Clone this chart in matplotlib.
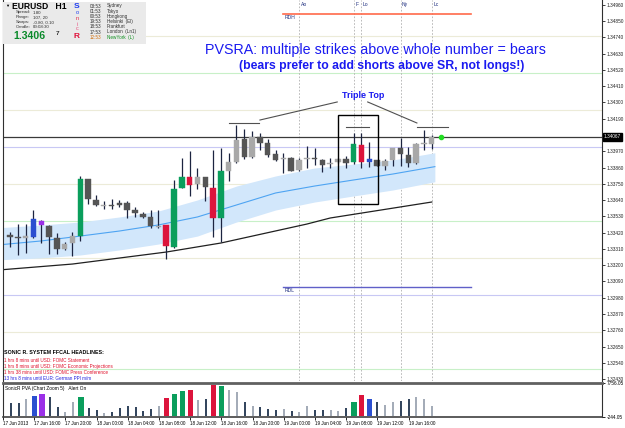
import numpy as np
import matplotlib
matplotlib.use("Agg")
import matplotlib.pyplot as plt
from matplotlib.patches import Rectangle

W, H = 625, 428
plt.rcParams['font.family'] = ['Liberation Sans', 'DejaVu Sans']

# ---- data -------------------------------------------------------------
# H1 bars, bar 0 = 17 Jun 2013 12:00, candles drawn from bar 1
opens = [1.33403, 1.33389, 1.33382, 1.33389, 1.33497, 1.33464, 1.33382, 1.33308, 1.33348, 1.33396,
         1.33782, 1.33640, 1.33599, 1.33606, 1.33606, 1.33620, 1.33572, 1.33545, 1.33525, 1.33460,
         1.33471, 1.33321, 1.33721, 1.33796, 1.33748, 1.33796, 1.33721, 1.33518, 1.33836, 1.33897,
         1.34053, 1.33931, 1.34066, 1.34026, 1.33951, 1.33915, 1.33924, 1.33843, 1.33915, 1.33918,
         1.33911, 1.33884, 1.33897, 1.33918, 1.33897, 1.34012, 1.33897, 1.33911, 1.33870, 1.33911,
         1.33992, 1.33945, 1.33890, 1.34019, 1.34019]
highs = [1.33423, 1.33477, 1.33477, 1.33572, 1.33504, 1.33471, 1.33416, 1.33355, 1.33423, 1.33802,
         1.33782, 1.33674, 1.33633, 1.33647, 1.33640, 1.33633, 1.33592, 1.33559, 1.33572, 1.33572,
         1.33471, 1.33775, 1.33924, 1.33972, 1.33857, 1.33796, 1.33979, 1.33992, 1.33958, 1.34148,
         1.34121, 1.34107, 1.34094, 1.34053, 1.33979, 1.33958, 1.33931, 1.33924, 1.34006, 1.33992,
         1.33918, 1.33924, 1.33924, 1.33938, 1.34094, 1.34094, 1.34033, 1.33911, 1.33918, 1.33992,
         1.34060, 1.33999, 1.34026, 1.34114, 1.34080]
lows = [1.33321, 1.33267, 1.33281, 1.33382, 1.33348, 1.33274, 1.33274, 1.33301, 1.33260, 1.33362,
        1.33613, 1.33599, 1.33579, 1.33579, 1.33592, 1.33518, 1.33525, 1.33518, 1.33450, 1.33450,
        1.33240, 1.33314, 1.33721, 1.33667, 1.33714, 1.33633, 1.33389, 1.33355, 1.33768, 1.33890,
        1.33918, 1.33924, 1.33979, 1.33931, 1.33904, 1.33823, 1.33836, 1.33836, 1.33857, 1.33877,
        1.33830, 1.33857, 1.33890, 1.33857, 1.33884, 1.33857, 1.33863, 1.33870, 1.33843, 1.33870,
        1.33870, 1.33863, 1.33884, 1.33979, 1.33985]
closes = [1.33389, 1.33382, 1.33396, 1.33511, 1.33471, 1.33389, 1.33308, 1.33342, 1.33396, 1.33782,
          1.33647, 1.33606, 1.33606, 1.33599, 1.33620, 1.33572, 1.33552, 1.33525, 1.33464, 1.33464,
          1.33328, 1.33714, 1.33796, 1.33741, 1.33796, 1.33728, 1.33518, 1.33836, 1.33897, 1.34046,
          1.33931, 1.34066, 1.34026, 1.33945, 1.33911, 1.33918, 1.33836, 1.33911, 1.33918, 1.33915,
          1.33877, 1.33890, 1.33918, 1.33890, 1.34019, 1.33897, 1.33918, 1.33870, 1.33904, 1.33992,
          1.33951, 1.33890, 1.34019, 1.34026, 1.34067]
# PVSRA class: l/d normal bull/bear, g/r climax bull/bear, b/m rising bull/bear
pvsra = list("ddlbmddllgddlddddddl" "rggrldrgll" "dldddldlld" "dlldgrbdll" "ddll" "l")
volumes = [3000, 3000, 4000, 4700, 5200, 4500, 2100, 950, 3300, 4500,
           1900, 1400, 700, 950, 1900, 2350, 2100, 1200, 1650, 2350,
           4250, 5200, 5900, 6100, 3800, 4000, 7300, 7100, 6100, 5650,
           3300, 2350, 2100, 1650, 1400, 1650, 1200, 950, 2350, 1400,
           1400, 1400, 1200, 1900, 3300, 4950, 4000, 3300, 2600, 3300,
           3550, 4000, 4500, 4000, 2350]

# dragon band (read at a few bars)
band_bars = [0.1, 5, 10, 15, 20, 25, 30, 35, 40, 45, 50, 55.4]
band_mid = [1.33340, 1.33364, 1.33397, 1.33431, 1.33472, 1.33526, 1.33607, 1.33688, 1.33735, 1.33776, 1.33816, 1.33866]
band_top = [1.33455, 1.33472, 1.33492, 1.33526, 1.33566, 1.33641, 1.33735, 1.33803, 1.33857, 1.33884, 1.33911, 1.33960]
band_bot = [1.33238, 1.33249, 1.33269, 1.33303, 1.33343, 1.33397, 1.33492, 1.33573, 1.33627, 1.33668, 1.33708, 1.33764]
ema_bars = [0.1, 9, 21, 28, 39, 42, 55]
ema_slow = [1.33170, 1.33208, 1.33289, 1.33350, 1.33478, 1.33519, 1.33627]

# 1.34080 is hidden behind the bid label on the reference
price_ticks = [1.34960, 1.34850, 1.34740, 1.34630, 1.34520, 1.34410, 1.34300, 1.34190, 1.33970,
               1.33860, 1.33750, 1.33640, 1.33530, 1.33420, 1.33310, 1.33200, 1.33090, 1.32980, 1.32870,
               1.32760, 1.32650, 1.32540, 1.32430]
time_bars = [0, 4, 8, 12, 16, 20, 24, 28, 32, 36, 40, 44, 48, 52]
time_labels = ["17 Jun 2013", "17 Jun 16:00", "17 Jun 20:00", "18 Jun 00:00", "18 Jun 04:00",
               "18 Jun 08:00", "18 Jun 12:00", "18 Jun 16:00", "18 Jun 20:00", "19 Jun 00:00",
               "19 Jun 04:00", "19 Jun 08:00", "19 Jun 12:00", "19 Jun 16:00"]
bid = 1.34067
whole_levels = [1.34000, 1.33000]
quarter_levels = [1.34750, 1.34250, 1.33750, 1.33250, 1.32750]
half_levels = [1.34500, 1.33500, 1.32500]
session_bars = [38, 45, 46, 51, 55]
session_names = ["Ao", "F", "Lo", "Ny", "Lc"]
rdh, rdl = 1.34897, 1.33053
headlines = ["1 hrs 8 mins until USD: FOMC Statement",
             "1 hrs 8 mins until USD: FOMC Economic Projections",
             "1 hrs 38 mins until USD: FOMC Press Conference",
             "13 hrs 8 mins until EUR: German PPI m/m"]

colors = {'l': '#a8a8a8', 'd': '#555555', 'g': '#0a9e5c', 'r': '#dc143c', 'b': '#2b4fd0', 'm': '#9b30e8'}
vcolors = {'l': '#a4acb8', 'd': '#34465e', 'g': '#0a9e5c', 'r': '#dc143c', 'b': '#2b4fd0', 'm': '#9b30e8'}


def box(x0, y0, x1, y1):
    return [x0 / W, 1 - y1 / H, (x1 - x0) / W, (y1 - y0) / H]


def ftext(x, y, s, **kw):
    kw.setdefault('va', 'center')
    fig.text(x / W, 1 - y / H, s, **kw)


fig = plt.figure(figsize=(W / 100, H / 100), dpi=100)
fig.patch.set_facecolor('white')

ax = fig.add_axes(box(3, 0, 602, 381))
vax = fig.add_axes(box(3, 383, 602, 417))
xlim = (0.104, 76.8)
ylo, yhi = 1.324177, 1.34992

# ---- main pane --------------------------------------------------------
ax.set_xlim(*xlim)
ax.set_ylim(ylo, yhi)

for lv in quarter_levels:
    ax.axhline(lv, color='#ecebd8', lw=0.8, zorder=0)
for lv in half_levels:
    ax.axhline(lv, color='#c8f0c8', lw=0.8, zorder=0)
for lv in whole_levels:
    ax.axhline(lv, color='#c8c8f4', lw=0.8, zorder=0)
for b in session_bars:
    ax.axvline(b, color='#b0b0b0', lw=0.6, ls=(0, (2, 2)), zorder=0)

ax.fill_between(band_bars, band_bot, band_top, color='#d2e7fb', lw=0, zorder=1)
ax.plot(band_bars, band_mid, color='#4ea4f2', lw=0.8, zorder=2)
ax.plot(ema_bars, ema_slow, color='#202020', lw=0.9, zorder=2)
ax.axhline(bid, color='#3a3a3a', lw=0.9, zorder=2)

bars = np.arange(1, len(opens) + 1)
o, h, l, c = map(np.array, (opens, highs, lows, closes))
cols = [colors[p] for p in pvsra]
ax.vlines(bars, l, h, color='#1c2440', lw=0.9, zorder=3)
bottoms = np.minimum(o, c)
heights = np.maximum(np.abs(c - o), 0.00007)
ax.bar(bars, heights, bottom=bottoms, width=0.7, color=cols, edgecolor=cols, lw=0.3, zorder=4)

ax.plot([56.2], [bid], 'o', color='#22dd22', ms=3, zorder=5)

# annotations
ax.plot([33.0, 42.9], [1.34181, 1.34303], color='#505050', lw=0.8)
ax.plot([46.8, 53.1], [1.34303, 1.34161], color='#505050', lw=0.8)
for x0, x1, y in [(29.0, 32.9, 1.34161), (44.0, 47.0, 1.34134), (53.1, 57.1, 1.34134)]:
    ax.plot([x0, x1], [y, y], color='#505050', lw=0.8)
ax.add_patch(Rectangle((43.0, 1.33614), 5.1, 1.34215 - 1.33614, fill=False, ec='black', lw=1.0, zorder=6))
ax.plot([36, 60], [rdh, rdh], color='#ff6a4a', lw=1.2)
ax.plot([36, 60], [rdl, rdl], color='#6060c8', lw=1.0)
ax.text(36.2, rdh - 0.00022, "RDH", fontsize=3.6, color='#203080', va='center')
ax.text(36.2, rdl - 0.00022, "RDL", fontsize=3.6, color='#203080', va='center')
for b, n in zip(session_bars, session_names):
    ax.text(b + 0.2, yhi - 0.00032, n, fontsize=3.6, color='#203080', va='center')

ax.yaxis.tick_right()
ax.set_yticks(price_ticks)
ax.set_yticklabels(["%.5f" % t for t in price_ticks], fontsize=3.4)
ax.tick_params(axis='y', length=2, width=0.6, pad=1.2, colors='#202020')
ax.set_xticks([])
for s in ['top', 'bottom']:
    ax.spines[s].set_visible(False)
for s in ['left', 'right']:
    ax.spines[s].set_color('#303030')
    ax.spines[s].set_linewidth(0.8)
ax.text(1.003, (bid - ylo) / (yhi - ylo), "%.5f" % bid, transform=ax.transAxes,
        fontsize=3.4, color='white', va='center', ha='left', zorder=10,
        bbox=dict(boxstyle='square,pad=0.25', fc='black', ec='black'))

# ---- volume pane ------------------------------------------------------
vax.set_xlim(*xlim)
vax.set_ylim(-244.05, 7756.05)
widths = [0.68 if p in 'gbmr' else 0.25 for p in pvsra]
vax.bar(bars, volumes, width=widths, color=[vcolors[p] for p in pvsra], lw=0)
vax.yaxis.tick_right()
vax.set_yticks([7756.05, -244.05])
vax.set_yticklabels(["7756.05", "-244.05"], fontsize=3.4)
vax.tick_params(axis='y', length=2, width=0.6, pad=1.2)
vax.set_xticks(time_bars)
vax.set_xticklabels(time_labels, fontsize=3.3, ha='left')
vax.tick_params(axis='x', length=2, width=0.6, pad=1.0)
vax.spines['top'].set_linewidth(2.0)
vax.spines['top'].set_color('#606060')
vax.spines['bottom'].set_linewidth(1.2)
vax.spines['bottom'].set_color('#404040')
for s in ['left', 'right']:
    vax.spines[s].set_color('#303030')
    vax.spines[s].set_linewidth(0.8)
vax.text(0.003, 0.85, "SonicR PVA (Chart Zoom 5)   Alert On", transform=vax.transAxes, fontsize=3.4, va='center')

# ---- chart texts ------------------------------------------------------
ftext(375, 50, "PVSRA: multiple strikes above whole number = bears", ha='center', fontsize=10.3, color='#1a1af0')
ftext(382, 66, "(bears prefer to add shorts above SR, not longs!)", ha='center', fontsize=8.8,
      color='#1a1af0', weight='bold')
ftext(363, 95, "Triple Top", ha='center', fontsize=6.5, color='#1a1af0', weight='bold')

ftext(4, 353, "SONIC R. SYSTEM FFCAL HEADLINES:", fontsize=3.8, weight='bold')
for i, s in enumerate(headlines):
    ftext(4, 360 + 6.3 * i, s, fontsize=3.3, color='#e0102a' if i < 3 else '#2020e0')

# info panel
fig.patches.append(Rectangle((3 / W, 1 - 44 / H), 143 / W, 42 / H, transform=fig.transFigure,
                             fc='#eaeaea', ec='none', zorder=0))
ftext(5, 6, "\u25bc", fontsize=3.0)
ftext(12, 6.5, "EURUSD   H1", fontsize=6.2, weight='bold')
for i, (k, v) in enumerate([("Spread:", "1.80"), ("Range:", "107, 20"), ("Swaps:", "-0.80, 0.10"),
                            ("Candle:", "00:08:30")]):
    ftext(16, 12.5 + 4.8 * i, k, fontsize=3.2, color='#303030')
    ftext(33, 12.5 + 4.8 * i, v, fontsize=3.2, color='#303030')
ftext(13, 36, "1.3406", fontsize=7.6, weight='bold', color='#0a8a2a')
ftext(56, 33.5, "7", fontsize=4.6, weight='bold', color='#303030')
for ch, cl, yy in zip("SonicR", ['#1a3af0', '#1a3af0', '#e02040', '#e85080', '#e85080', '#e0103a'],
                      [6, 13, 18, 24, 29, 37]):
    big = ch in "SR"
    ftext(77, yy, ch, fontsize=6 if big else 4.0, weight='bold' if big else 'normal', color=cl, ha='center')
zones = [("03:53", "Sydney"), ("01:53", "Tokyo"), ("00:53", "Hongkong"), ("19:53", "Helsinki  (El)"),
         ("18:53", "Frankfurt"), ("17:53", "London  (Ln1)"), ("12:53", "NewYork  (L)")]
for i, (t, n) in enumerate(zones):
    last = i == len(zones) - 1
    ftext(90, 6 + 5.2 * i, t, fontsize=3.3, color='#d07010' if last else '#303030')
    ftext(107, 6 + 5.2 * i, n, fontsize=3.3, color='#109020' if last else '#303030')

fig.savefig("out.png", dpi=100)
